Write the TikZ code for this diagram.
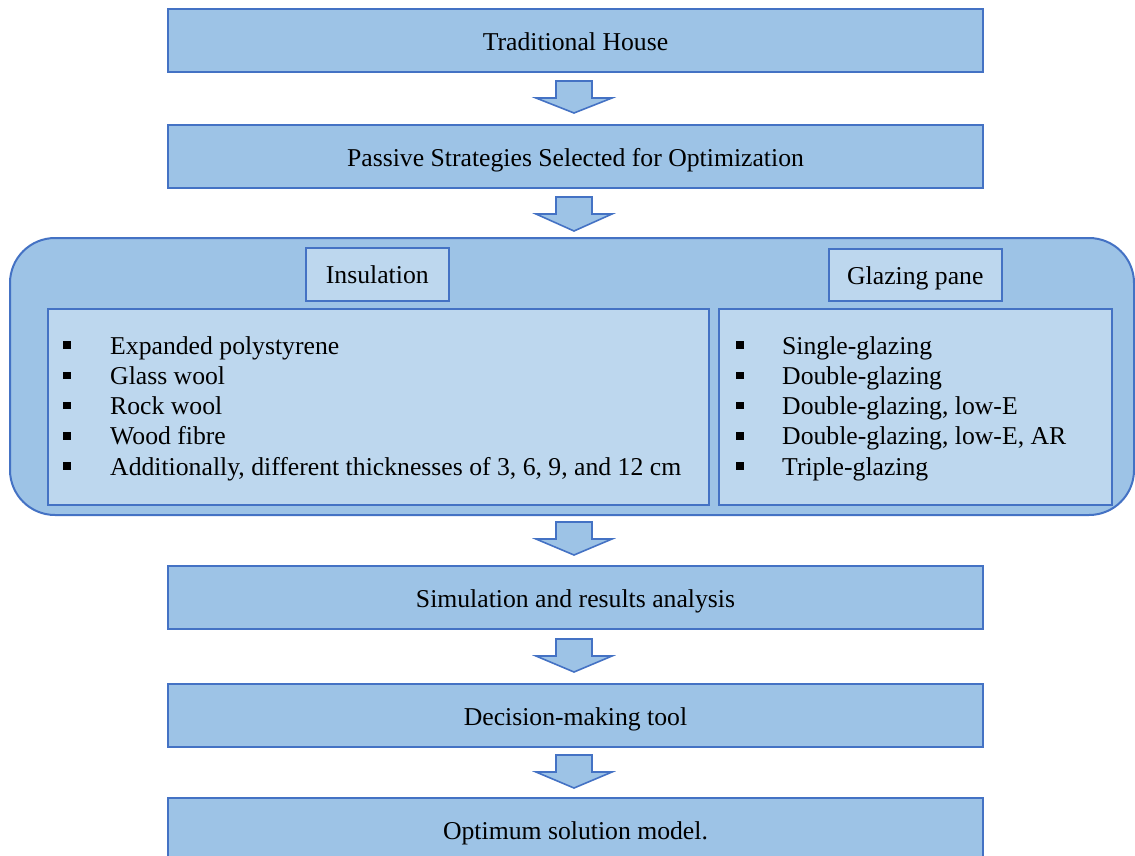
\documentclass[tikz,border=0pt]{standalone}
\usepackage{fontspec}
\setmainfont{Liberation Serif}
\usetikzlibrary{calc}
\definecolor{boxfill}{HTML}{9DC3E6}
\definecolor{innerfill}{HTML}{BDD7EE}
\definecolor{edge}{HTML}{4472C4}
\tikzset{
  txt/.style={font=\fontsize{25.7}{30}\selectfont},
  mainbox/.style={draw=edge, fill=boxfill, line width=2pt, minimum width=815pt, minimum height=63pt, inner sep=0pt, txt, text height=19pt, text depth=0pt, anchor=north west},
  labelbox/.style={draw=edge, fill=innerfill, line width=1.6pt, inner sep=0pt, txt, text height=19pt, text depth=0pt, anchor=north west},
  listbox/.style={draw=edge, fill=innerfill, line width=1.6pt, inner sep=0pt, anchor=north west},
  bigbox/.style={draw=edge, fill=boxfill, line width=2pt, rounded corners=45pt},
  blockarrow/.style={draw=edge, fill=boxfill, line width=1.6pt, line join=miter},
  item/.style={txt, anchor=base west, inner sep=0pt},
  bullet/.style={fill=black, minimum size=7.5pt, inner sep=0pt},
}
\newcommand{\blockarr}[2]{% top coord name, bottom coord name
  \draw[blockarrow] ($(#1)+(-18,0)$) -- ($(#1)+(18,0)$) -- ($(#1)+(18,17)$) -- ($(#1)+(38,17)$) -- (#2) -- ($(#1)+(-38,17)$) -- ($(#1)+(-18,17)$) -- cycle;}
\begin{document}
\begin{tikzpicture}[x=1pt,y=-1pt]
\useasboundingbox (0,0) rectangle (1135,855);
\fill[white] (0,0) rectangle (1135,855);

\node[mainbox] (house) at (167,8) {Traditional House};
\node[mainbox] (passive) at (167,124) {Passive Strategies Selected for Optimization};

\draw[bigbox] (10,238) rectangle (1134,515);
\node[labelbox, minimum width=143pt, minimum height=53pt] (insul) at (305,247) {Insulation};
\node[labelbox, minimum width=173pt, minimum height=52pt] (glaz) at (828,248) {Glazing pane};
\node[listbox, minimum width=661pt, minimum height=196pt] (left) at (47,308) {};
\node[listbox, minimum width=393pt, minimum height=196pt] (right) at (718,308) {};

\foreach \t [count=\i] in {Expanded polystyrene, Glass wool, Rock wool, Wood fibre, {Additionally, different thicknesses of 3, 6, 9, and 12 cm}}{
  \node[bullet] (lb\i) at (67,{345+30.3*(\i-1)}) {};
  \node[item] (lt\i) at (110,{354+30.3*(\i-1)}) {\t};
}
\foreach \t [count=\i] in {Single-glazing, Double-glazing, {Double-glazing, low-E}, {Double-glazing, low-E, AR}, Triple-glazing}{
  \node[bullet] (rb\i) at (740,{345+30.3*(\i-1)}) {};
  \node[item] (rt\i) at (782,{354+30.3*(\i-1)}) {\t};
}

\node[mainbox] (sim) at (167,565) {Simulation and results analysis};
\node[mainbox] (dec) at (167,683) {Decision-making tool};
\node[mainbox] (opt) at (167,797) {Optimum solution model.};

\coordinate (a1t) at (574,81);  \coordinate (a1b) at (574,113);
\coordinate (a2t) at (574,197); \coordinate (a2b) at (574,231);
\coordinate (a3t) at (574,522); \coordinate (a3b) at (574,555);
\coordinate (a4t) at (574,639); \coordinate (a4b) at (574,672);
\coordinate (a5t) at (574,755); \coordinate (a5b) at (574,788);
\blockarr{a1t}{a1b}
\blockarr{a2t}{a2b}
\blockarr{a3t}{a3b}
\blockarr{a4t}{a4b}
\blockarr{a5t}{a5b}
\end{tikzpicture}
\end{document}
